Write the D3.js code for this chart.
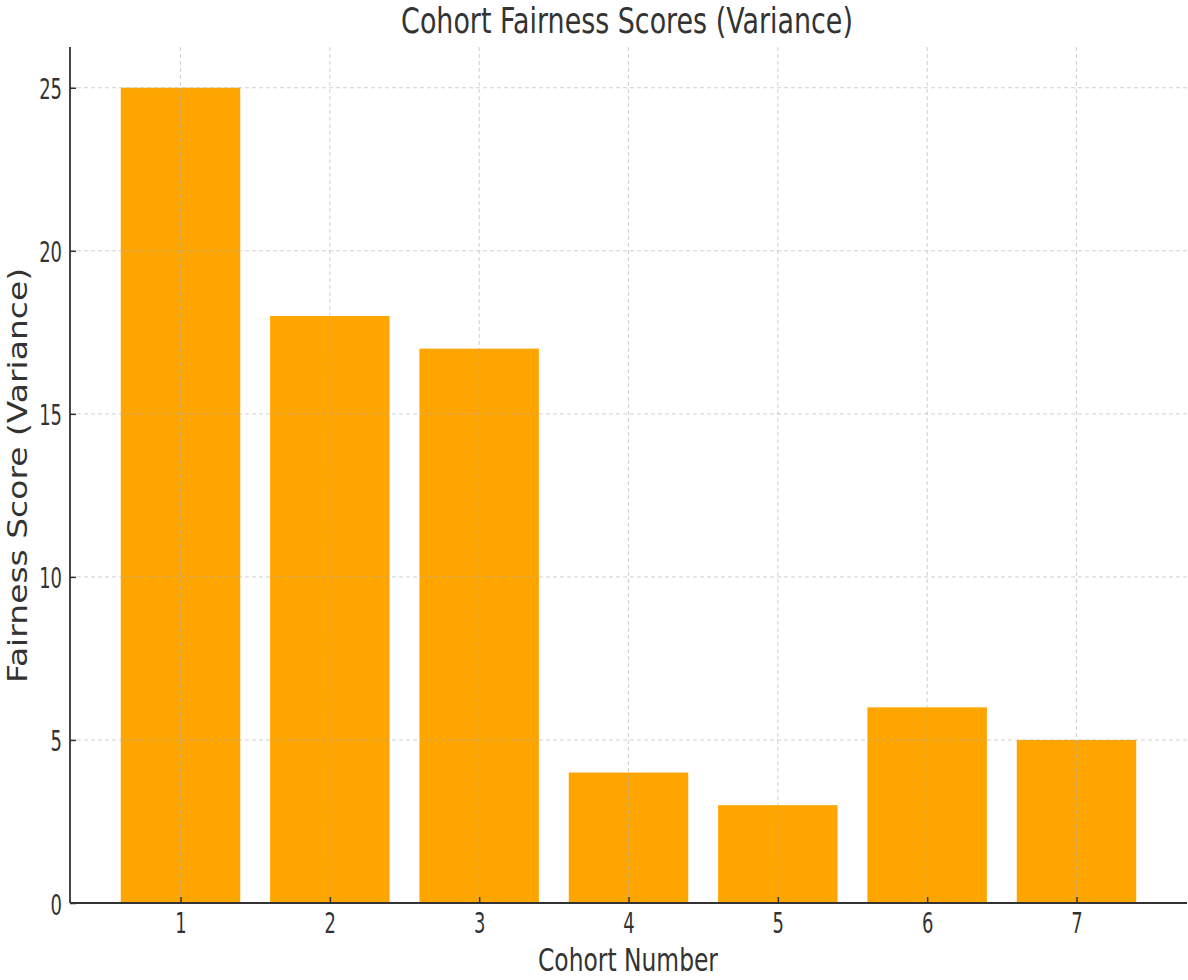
<!DOCTYPE html>
<html><head><meta charset="utf-8">
<script src="https://cdn.jsdelivr.net/npm/d3@7"></script>
<style>body{margin:0;background:#fff}svg{display:block}</style>
</head><body>
<svg id="c" width="1188" height="980"></svg>
<script>
const cohorts = [1, 2, 3, 4, 5, 6, 7];
const scores = [25, 18, 17, 4, 3, 6, 5];
const yTicks = [0, 5, 10, 15, 20, 25];
const title = "Cohort Fairness Scores (Variance)";
const xLabel = "Cohort Number";
const yLabel = "Fairness Score (Variance)";

const svg = d3.select("#c");
const L = 70, R = 1187, T = 47, B = 903;
const FONT = "DejaVu Sans, sans-serif";
const TXT = "#333";

const x = d3.scaleLinear().domain([0.26, 7.74]).range([L, R]);
const y = d3.scaleLinear().domain([0, 26.25]).range([B, T]);
const barW = 0.8;

// bars
svg.append("g").selectAll("rect").data(cohorts).join("rect")
  .attr("x", d => x(d - barW / 2))
  .attr("width", d => x(d + barW / 2) - x(d - barW / 2))
  .attr("y", (d, i) => y(scores[i]))
  .attr("height", (d, i) => y(0) - y(scores[i]))
  .attr("fill", "#FFA500");

// grid
const grid = svg.append("g").attr("stroke", "#b0b0b0").attr("stroke-opacity", 0.6)
  .attr("stroke-width", 1).attr("stroke-dasharray", "4,3");
grid.selectAll("line.v").data(cohorts).join("line").attr("class", "v")
  .attr("x1", d => x(d)).attr("x2", d => x(d)).attr("y1", T).attr("y2", B);
grid.selectAll("line.h").data(yTicks.filter(t => t > 0)).join("line").attr("class", "h")
  .attr("x1", L).attr("x2", R).attr("y1", d => y(d)).attr("y2", d => y(d));

// axes via d3 axis
const gx = svg.append("g").attr("transform", `translate(0,${B})`)
  .call(d3.axisBottom(x).tickValues(cohorts).tickSize(-6).tickPadding(0).tickFormat(d3.format("d")));
const gy = svg.append("g").attr("transform", `translate(${L},0)`)
  .call(d3.axisLeft(y).tickValues(yTicks).tickSize(-6).tickPadding(0).tickFormat(d3.format("d")));
[gx, gy].forEach(g => {
  g.select(".domain").remove();
  g.selectAll(".tick line").attr("stroke", TXT).attr("stroke-width", 1.5);
});
// spines
svg.append("line").attr("x1", L).attr("x2", R).attr("y1", B).attr("y2", B).attr("stroke", TXT).attr("stroke-width", 1.8);
svg.append("line").attr("x1", L).attr("x2", L).attr("y1", T).attr("y2", B).attr("stroke", TXT).attr("stroke-width", 1.8);

const tickSX = 0.62, tickFS = 29;
gx.selectAll(".tick text")
  .attr("x", null).attr("y", null).attr("dy", null)
  .attr("font-family", FONT).attr("font-size", tickFS).attr("fill", TXT)
  .attr("text-anchor", "middle")
  .attr("transform", `translate(0,30) scale(${tickSX},1)`);
gy.selectAll(".tick text")
  .attr("x", null).attr("y", null).attr("dy", null)
  .attr("font-family", FONT).attr("font-size", tickFS).attr("fill", TXT)
  .attr("text-anchor", "end")
  .attr("transform", `translate(-8,11) scale(${tickSX},1)`);

function fitted(text, cx, baseY, width, capH, rotate) {
  const fs = capH / 0.729;
  const t = svg.append("text").text(text).attr("font-family", FONT)
    .attr("font-size", fs).attr("fill", TXT).attr("text-anchor", "middle");
  const w = t.node().getComputedTextLength();
  const sx = width / w;
  t.attr("transform", `translate(${cx},${baseY})${rotate ? " rotate(-90)" : ""} scale(${sx},1)`);
  return t;
}
fitted(title, 627, 33, 452, 26, false);
fitted(xLabel, 628, 971, 180, 23, false);
fitted(yLabel, 27, 475.5, 415, 20, true);
</script>
</body></html>
